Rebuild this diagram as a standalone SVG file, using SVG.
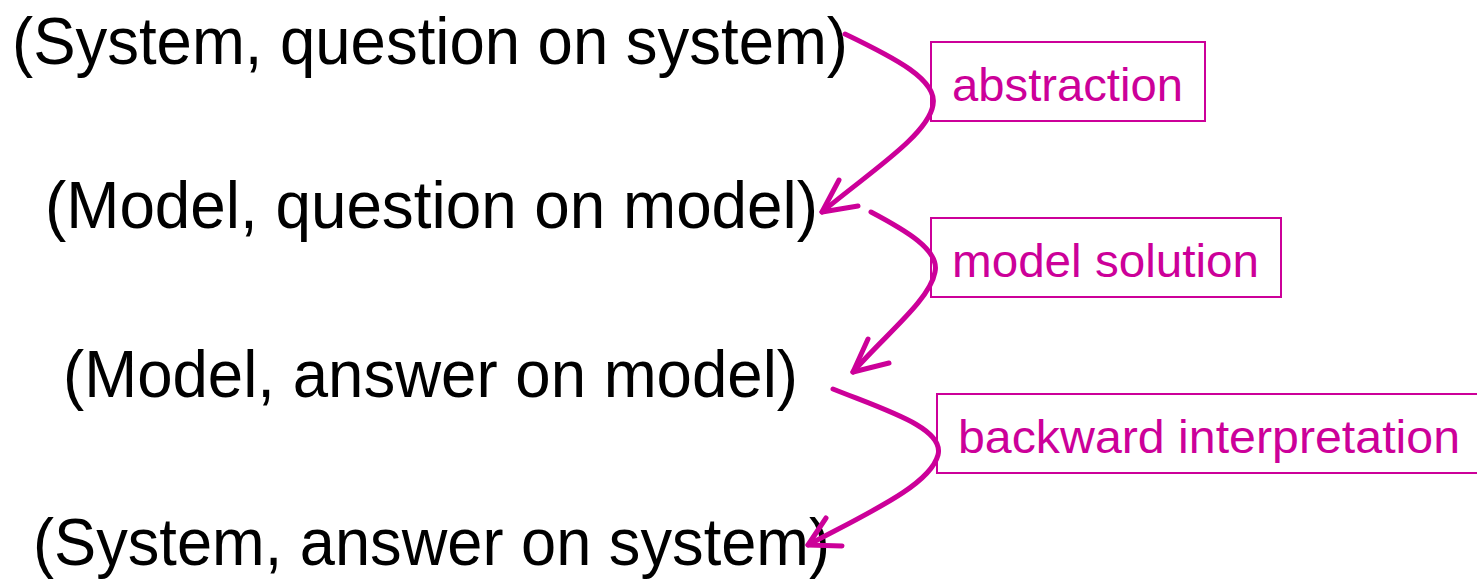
<svg xmlns="http://www.w3.org/2000/svg" width="1477" height="579" viewBox="0 0 1477 579">
<style>
.t{font-family:"Liberation Sans","DejaVu Sans",sans-serif;font-size:66px;fill:#000}
.l{font-family:"Liberation Sans","DejaVu Sans",sans-serif;font-size:46px;fill:#CC0099}
.b{fill:none;stroke:#CC0099;stroke-width:2}
.c{fill:none;stroke:#CC0099;stroke-width:5;stroke-linecap:round;stroke-linejoin:round}
</style>
<rect width="1477" height="579" fill="#fff"/>
<g id="n1"><text class="t" x="12" y="64" textLength="836" lengthAdjust="spacingAndGlyphs">(System, question on system)</text></g>
<g id="n2"><text class="t" x="45" y="228" textLength="773" lengthAdjust="spacingAndGlyphs">(Model, question on model)</text></g>
<g id="n3"><text class="t" x="63" y="397" textLength="735" lengthAdjust="spacingAndGlyphs">(Model, answer on model)</text></g>
<g id="n4"><text class="t" x="33" y="565" textLength="797" lengthAdjust="spacingAndGlyphs">(System, answer on system)</text></g>
<g id="lab1"><rect class="b" x="931" y="42" width="274" height="79"/><text class="l" x="952" y="101" textLength="231" lengthAdjust="spacingAndGlyphs">abstraction</text></g>
<g id="lab2"><rect class="b" x="931" y="218" width="350" height="79"/><text class="l" x="952" y="277" textLength="307" lengthAdjust="spacingAndGlyphs">model solution</text></g>
<g id="lab3"><rect class="b" x="937" y="394" width="545" height="79"/><text class="l" x="958" y="453" textLength="502" lengthAdjust="spacingAndGlyphs">backward interpretation</text></g>
<g id="connectors">
<path class="c" d="M845,34 C895,58 938,80 933,105 C928,135 870,172 822,212"/>
<path class="c" d="M839,180 L822,212 L858,206"/>
<path class="c" d="M871,212 C905,230 940,250 935,272 C930,300 885,335 853,372"/>
<path class="c" d="M868,339 L853,372 L889,363"/>
<path class="c" d="M833,389 C885,410 945,428 938,455 C930,485 870,512 808,545"/>
<path class="c" d="M826,518 L808,545 L842,546"/>
</g>
</svg>
